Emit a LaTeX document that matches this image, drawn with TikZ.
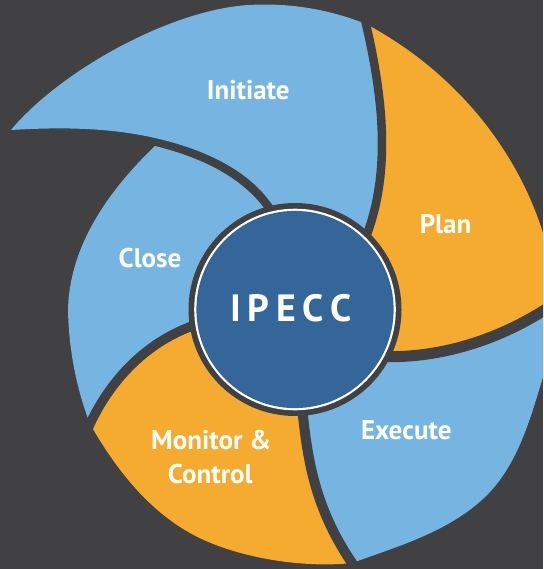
\documentclass[tikz,border=0pt]{standalone}
\usepackage{fontspec}
\setmainfont{PT Sans}
\definecolor{bg}{HTML}{414042}
\definecolor{lblue}{HTML}{76B5E1}
\definecolor{orng}{HTML}{F4AB30}
\definecolor{navy}{HTML}{34669A}
\def\sone{(366,24) .. controls (383.9,101.2) and (393.4,184.1) .. (358,255)}
\def\soner{(358,255) .. controls (393.4,184.1) and (383.9,101.2) .. (366,24)}
\def\stwo{(577,290) -- (543,311) .. controls (491.1,343.3) and (430.8,360.6) .. (370,356)}
\def\sthree{(301,395) .. controls (306.3,454.2) and (312.8,504.9) .. (352,563)}
\def\sthreer{(352,563) .. controls (312.8,504.9) and (306.3,454.2) .. (301,395)}
\def\sfour{(205,322) .. controls (153.1,335.9) and (112.7,375.3) .. (90,424)}
\def\sfourr{(90,424) .. controls (112.7,375.3) and (153.1,335.9) .. (205,322)}
\begin{document}
\begin{tikzpicture}[x=1pt,y=-1pt,
  lbl/.style={text=white, font=\bfseries\fontsize{27}{32}\selectfont, inner sep=0pt, anchor=base},
  sepline/.style={draw=bg, line cap=butt, line join=round}]
\useasboundingbox (0,0) rectangle (543,569);
\fill[bg] (0,0) rectangle (543,569);
\coordinate (C) at (295,309.5);
\begin{scope}
\clip (0,0) rectangle (543,569);
% Close
\fill[lblue] (155,146) .. controls (108.7,190.4) and (69.3,245.7) .. (68,310)
  .. controls (68.8,349) and (76.1,387.6) .. \sfourr -- (C)
  -- (274,224) .. controls (251.3,180.1) and (202.8,157.8) .. (155,146) -- cycle;
% Monitor & Control
\fill[orng] (90,424) .. controls (115,467.4) and (146.4,508.5) .. (190,533)
  .. controls (233.5,557.5) and (302,568.5) .. \sthreer -- (C) -- \sfour -- cycle;
% Execute
\fill[lblue] (352,563) .. controls (399,546) and (449,531.5) .. (485,497)
  .. controls (517.4,465.9) and (530,419.8) .. (543,377) -- (556,335) -- \stwo
  -- (C) -- \sthree -- cycle;
% Plan
\fill[orng] (366,24) .. controls (449.3,68.5) and (514.6,143) .. (543,233) -- (560,280) -- \stwo
  -- (C) -- \soner -- cycle;
% Initiate
\fill[lblue] (11,130) .. controls (59,72.2) and (169,9.8) .. (249,5)
  .. controls (289,2.6) and (328.8,9.2) .. \sone -- (C)
  -- (282,222) .. controls (260.1,173.4) and (207,149.9) .. (155,138)
  .. controls (108.2,127.3) and (59,127.1) .. (11,130) -- cycle;
% separators
\draw[sepline, line width=8.5pt] (362.8,10.4) -- \sone;
\draw[sepline, line width=11pt] \stwo;
\draw[sepline, line width=10pt] \sthree -- (360.4,575.5);
\draw[sepline, line width=9.5pt] \sfour -- (83.7,437.6);
\end{scope}
% hub
\fill[bg] (C) circle (106.5pt);
\fill[white] (C) circle (100.8pt);
\fill[navy] (C) circle (98.6pt);
\node[text=white, font=\bfseries\fontsize{38}{40}\selectfont, inner sep=0pt, anchor=base] (ipecc) at (291,321.7) {I\kern6.5pt P\kern6.5pt E\kern6.5pt C\kern6.5pt C};
% labels
\node[lbl] (initiate) at (248.3,100) {Initiate};
\node[lbl] (plan) at (445.5,233) {Plan};
\node[lbl] (execute) at (406.3,439.3) {Execute};
\node[lbl] (monitor) at (211.3,449.3) {Monitor \&};
\node[lbl] (control) at (210.3,483.3) {Control};
\node[lbl] (close) at (150,267) {Close};
\end{tikzpicture}
\end{document}
